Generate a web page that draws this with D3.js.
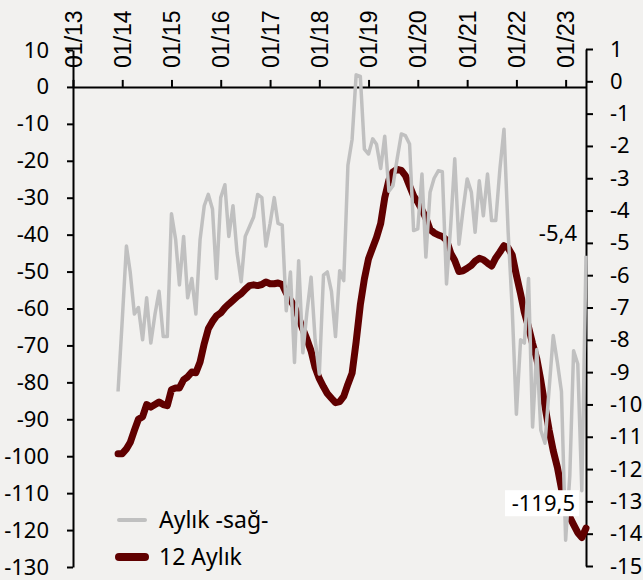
<!DOCTYPE html>
<html>
<head>
<meta charset="utf-8">
<script src="https://cdn.jsdelivr.net/npm/d3@7"></script>
<style>
    html, body { margin: 0; padding: 0; background: #f2f1ef; }
    svg { display: block; }
    .tick-label { font-family: "Noto Sans", sans-serif; font-size: 22px; fill: #000; }
    .x-label { font-family: "Liberation Sans", Arial, sans-serif; font-size: 23px; fill: #000; }
    .legend-label { font-family: "Noto Sans", sans-serif; font-size: 23px; fill: #000; }
</style>
</head>
<body>
<div id="chart"><svg></svg></div>
<script>
// months run Dec 2013 .. Jun 2023
const firstMonth = new Date(2013, 11, 1);
const lastMonth = new Date(2023, 5, 1);
const months = d3.timeMonth.range(firstMonth, d3.timeMonth.offset(lastMonth, 1));

const xTickLabels = ["01/13", "01/14", "01/15", "01/16", "01/17", "01/18",
                     "01/19", "01/20", "01/21", "01/22", "01/23"];
const leftTicks = d3.range(-130, 11, 10);
const rightTicks = d3.range(-15, 2, 1);

// 12 Aylık (left axis)
const twelveMonth = [
    -99.3,
    -99.3, -98.0, -96.3, -93.0, -90.0, -89.3, -86.0, -86.7, -86.0, -85.3, -86.0, -86.3,
    -82.0, -81.5, -81.5, -79.3, -78.5, -77.2, -77.4, -74.5, -69.5, -65.5, -63.5, -62.0,
    -61.2, -59.8, -58.8, -57.8, -56.8, -56.0, -54.8, -53.8, -53.6, -53.8, -53.5, -52.8,
    -53.3, -53.3, -53.1, -53.5, -55.8, -57.7, -59.5, -62.5, -65.6, -68.3, -71.5, -76.0,
    -79.0, -81.2, -83.0, -84.3, -85.5, -85.2, -83.8, -80.5, -77.5, -69.0, -59.0, -52.0,
    -46.5, -43.5, -40.8, -37.0, -30.0, -25.2, -23.0, -22.3, -22.6, -24.0, -26.8, -29.5,
    -31.2, -33.3, -35.5, -38.6, -39.5, -40.1, -40.5, -41.5, -45.0, -47.0, -50.0, -49.8,
    -49.1, -48.3, -47.2, -46.4, -46.8, -47.7, -48.5, -46.3, -44.7, -43.0, -43.6, -45.5,
    -51.0, -56.0, -61.0, -65.0, -69.5, -73.6, -79.5, -86.5, -93.0, -98.5, -103.0, -108.8,
    -113.0, -116.5, -118.5, -120.7, -122.0, -119.5
];

// Aylık -sağ- (right axis)
const monthly = [
    -9.6,
    -7.4, -5.1, -5.9, -7.2, -7.0, -8.0, -6.7, -8.1, -7.2, -6.5, -7.9, -7.9,
    -4.1, -4.9, -6.3, -4.8, -6.7, -6.1, -7.2, -4.9, -3.85, -3.5, -3.95, -6.1,
    -3.6, -3.2, -4.8, -3.85, -5.3, -6.2, -4.8, -4.5, -4.2, -3.5, -3.6, -5.1,
    -4.4, -3.6, -4.4, -4.45, -7.1, -5.9, -8.7, -5.55, -8.4, -7.15, -6.06, -8.0,
    -9.06, -6.0, -5.9, -6.5, -7.9, -5.86, -6.17, -2.6, -1.8, 0.2, 0.15, -2.1,
    -2.25, -1.78, -1.95, -2.7, -1.7, -3.4, -3.23, -2.4, -1.63, -1.68, -1.94, -4.62,
    -4.57, -2.87, -5.44, -3.43, -3.0, -2.77, -2.8, -6.27, -4.47, -2.4, -5.04, -4.0,
    -3.02, -3.43, -4.67, -3.08, -4.16, -2.87, -4.31, -4.31, -2.7, -1.48, -4.67, -7.04,
    -10.3, -8.0, -8.1, -6.1, -10.7, -8.3, -10.8, -11.2, -9.5, -7.87, -8.7, -9.6,
    -14.2, -12.2, -8.34, -8.75, -12.67, -5.4
];

const seriesNames = ["Aylık -sağ-", "12 Aylık"];
const seriesColors = ["#c0c0c0", "#600000"];

const width = 643, height = 580;
const plot = { left: 73, right: 586, top: 50, bottom: 567 };

const svg = d3.select("#chart svg")
    .attr("width", width)
    .attr("height", height);

svg.append("rect")
    .attr("width", width)
    .attr("height", height)
    .attr("fill", "#f2f1ef");

const x = d3.scaleTime()
    .domain([new Date(2013, 0, 1), lastMonth])
    .range([plot.left, plot.right]);

const yLeft = d3.scaleLinear()
    .domain([-130, 10])
    .range([plot.bottom, plot.top]);

const yRight = d3.scaleLinear()
    .domain([-15, 1])
    .range([plot.bottom - 1, plot.top - 1]);

// left axis
const leftAxis = svg.append("g")
    .attr("transform", `translate(${plot.left},0)`)
    .call(d3.axisLeft(yLeft).tickValues(leftTicks).tickSize(6).tickPadding(18).tickSizeOuter(0));

// right axis
const rightAxis = svg.append("g")
    .attr("transform", `translate(${plot.right},0)`)
    .call(d3.axisRight(yRight).tickValues(rightTicks).tickSize(7).tickPadding(17).tickSizeOuter(0));

[leftAxis, rightAxis].forEach(g => {
    g.select(".domain").attr("stroke", "#000").attr("stroke-width", 2);
    g.selectAll(".tick line").attr("stroke", "#000").attr("stroke-width", 2);
    g.selectAll(".tick text")
        .attr("class", "tick-label")
        .attr("font-family", null)
        .attr("font-size", null)
        .text(d => d3.format("d")(d).replace("−", "-"));
});

// x axis along zero of the left scale, ticks and labels above it
const xTickDates = xTickLabels.map((d, i) => new Date(2013 + i, 0, 1));
const xAxis = svg.append("g")
    .attr("transform", `translate(0,${yLeft(0)})`)
    .call(d3.axisTop(x).tickValues(xTickDates).tickSize(7).tickSizeOuter(0).tickFormat(""));

xAxis.select(".domain").attr("stroke", "#000").attr("stroke-width", 2);
xAxis.selectAll(".tick line").attr("stroke", "#000").attr("stroke-width", 2);

xAxis.selectAll(".tick")
    .append("text")
    .attr("class", "x-label")
    .attr("transform", "translate(0,-19) rotate(-90)")
    .attr("text-anchor", "start")
    .attr("dy", "0.35em")
    .text((d, i) => xTickLabels[i]);

// lines
const lineLeft = d3.line()
    .x((d, i) => x(months[i]))
    .y(d => yLeft(d));

const lineRight = d3.line()
    .x((d, i) => x(months[i]))
    .y(d => yRight(d));

svg.append("path")
    .datum(twelveMonth)
    .attr("fill", "none")
    .attr("stroke", seriesColors[1])
    .attr("stroke-width", 7)
    .attr("stroke-linejoin", "round")
    .attr("stroke-linecap", "round")
    .attr("d", lineLeft);

svg.append("path")
    .datum(monthly)
    .attr("fill", "none")
    .attr("stroke", seriesColors[0])
    .attr("stroke-width", 3.5)
    .attr("stroke-linejoin", "round")
    .attr("d", lineRight);

// end labels
const lastX = x(lastMonth);
const lastMonthly = monthly[monthly.length - 1];
const lastTwelve = twelveMonth[twelveMonth.length - 1];

svg.append("text")
    .attr("class", "tick-label")
    .attr("x", lastX - 9)
    .attr("y", yRight(lastMonthly) - 15)
    .attr("text-anchor", "end")
    .text(d3.format(".1f")(lastMonthly).replace(".", ",").replace("−", "-"));

const boxLabel = svg.append("g")
    .attr("transform", `translate(${lastX - 7},${yLeft(lastTwelve) - 25})`);

boxLabel.append("rect")
    .attr("x", -74)
    .attr("y", -13)
    .attr("width", 74)
    .attr("height", 26)
    .attr("fill", "#fff");

boxLabel.append("text")
    .attr("class", "tick-label")
    .attr("x", -4)
    .attr("y", 0)
    .attr("dy", "0.36em")
    .attr("text-anchor", "end")
    .text(d3.format(".1f")(lastTwelve).replace(".", ",").replace("−", "-"));

// legend
const legend = svg.append("g")
    .attr("transform", "translate(117,520)");

const legendRows = legend.selectAll("g")
    .data(seriesNames)
    .join("g")
    .attr("transform", (d, i) => `translate(0,${i * 37})`);

legendRows.append("line")
    .attr("x1", 2)
    .attr("x2", 28)
    .attr("stroke", (d, i) => seriesColors[i])
    .attr("stroke-width", (d, i) => i === 0 ? 4 : 8)
    .attr("stroke-linecap", "round");

legendRows.append("text")
    .attr("class", "legend-label")
    .attr("x", 42)
    .attr("dy", "0.35em")
    .text(d => d);
</script>
</body>
</html>
